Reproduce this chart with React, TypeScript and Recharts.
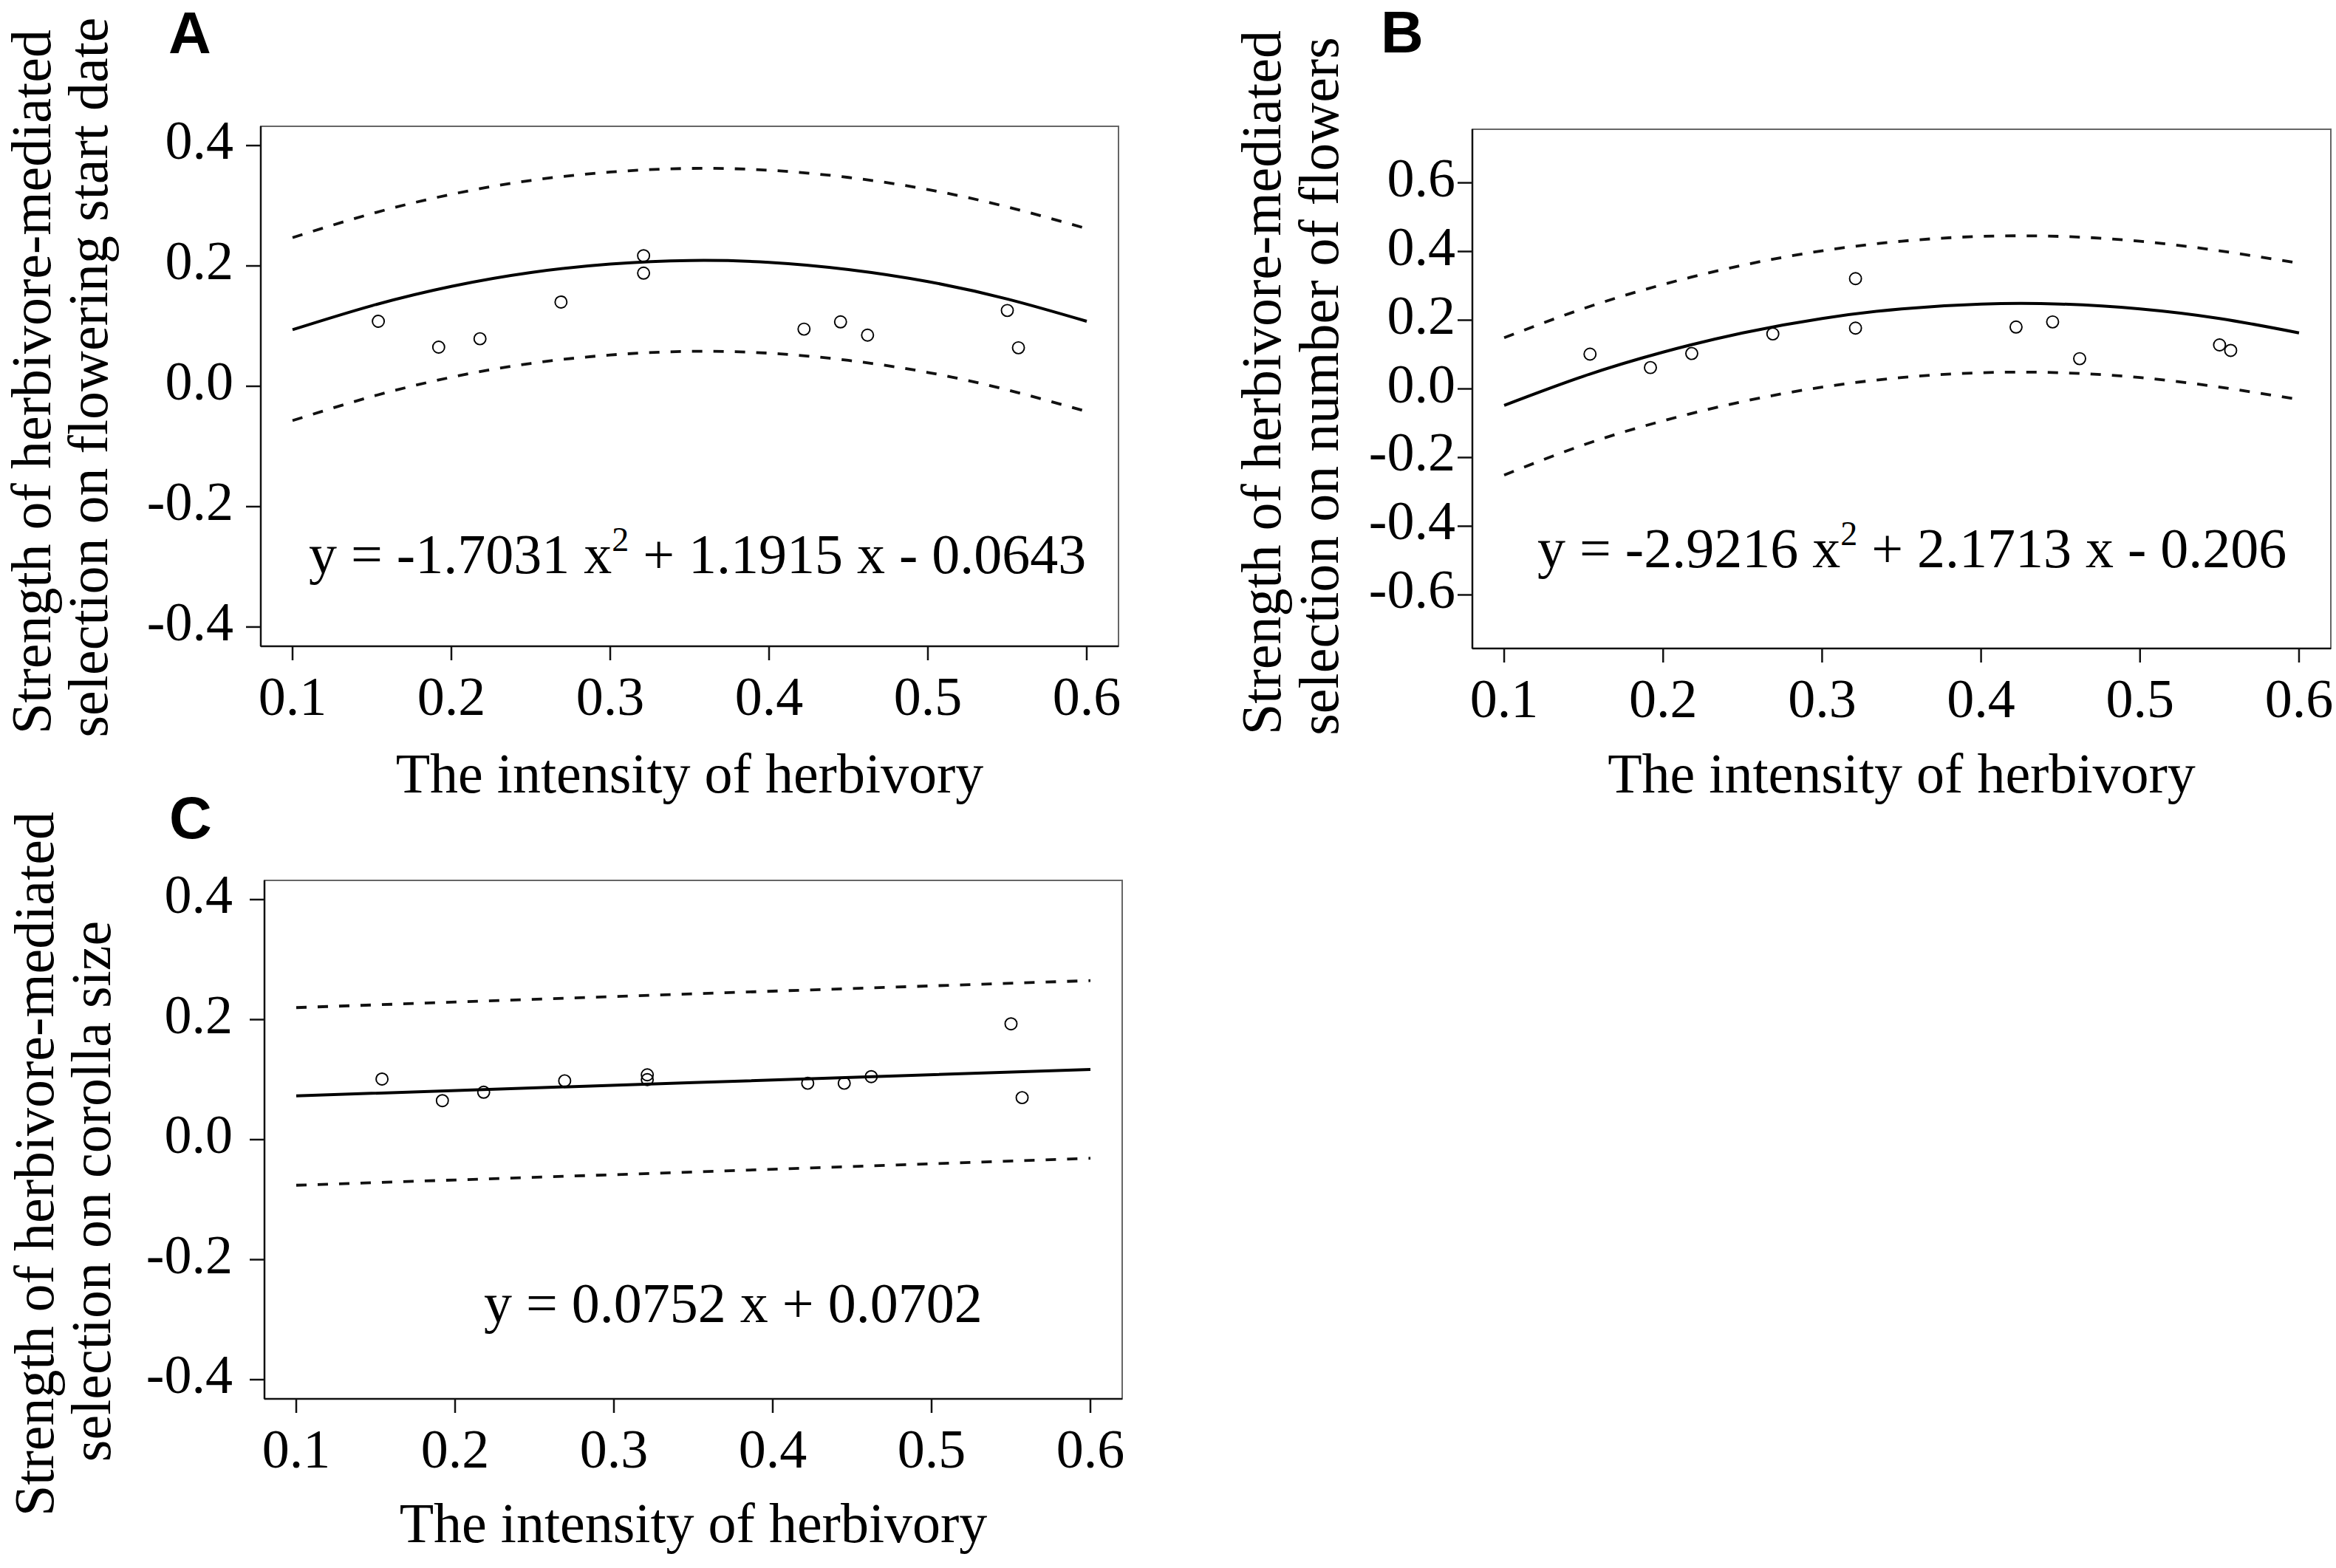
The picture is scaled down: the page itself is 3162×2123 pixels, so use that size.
import React from "react";
import { ComposedChart, Line, Scatter, XAxis, YAxis, ReferenceArea } from "recharts";

if (typeof document !== "undefined") {
  document.body.style.margin = "0";
}

// ---------- data ----------
const herbivory = [0.154, 0.192, 0.218, 0.269, 0.321, 0.321, 0.422, 0.445, 0.462, 0.55, 0.557];
const selFloweringStart = [0.108, 0.065, 0.079, 0.14, 0.217, 0.188, 0.095, 0.107, 0.085, 0.126, 0.064];
const selFlowerNumber = [0.101, 0.062, 0.103, 0.16, 0.321, 0.177, 0.18, 0.195, 0.088, 0.128, 0.112];
const selCorollaSize = [0.101, 0.065, 0.079, 0.098, 0.108, 0.1, 0.094, 0.094, 0.105, 0.193, 0.07];

const curveX = [0.1, 0.15, 0.2, 0.25, 0.3, 0.35, 0.4, 0.45, 0.5, 0.55, 0.6];
const fitA = [0.094, 0.134, 0.166, 0.189, 0.203, 0.209, 0.206, 0.194, 0.174, 0.145, 0.108];
const upperA = [0.247, 0.287, 0.319, 0.342, 0.356, 0.362, 0.359, 0.347, 0.327, 0.298, 0.262];
const lowerA = [-0.057, -0.017, 0.015, 0.038, 0.052, 0.058, 0.055, 0.043, 0.023, -0.006, -0.042];

const fitB = [-0.048, 0.037, 0.107, 0.163, 0.205, 0.233, 0.247, 0.247, 0.233, 0.205, 0.163];
const upperB = [0.149, 0.234, 0.304, 0.36, 0.402, 0.43, 0.444, 0.444, 0.43, 0.402, 0.366];
const lowerB = [-0.251, -0.163, -0.093, -0.037, 0.005, 0.033, 0.047, 0.047, 0.033, 0.005, -0.031];

const lineX = [0.1, 0.35, 0.6];
const fitC = [0.073, 0.095, 0.117];
const upperC = [0.22, 0.243, 0.265];
const lowerC = [-0.076, -0.054, -0.031];

const xTicks = [0.1, 0.2, 0.3, 0.4, 0.5, 0.6];
const yTicksSmall = [-0.4, -0.2, 0, 0.2, 0.4];
const yTicksLarge = [-0.6, -0.4, -0.2, 0, 0.2, 0.4, 0.6];
const xDomain: [number, number] = [0.08, 0.62];
const yDomainSmall: [number, number] = [-0.432, 0.432];
const yDomainLarge: [number, number] = [-0.756, 0.756];

const xTitle = "The intensity of herbivory";
const yTitleTop = "Strength of herbivore-mediated";

const toPts = (xs: number[], ys: number[]) => xs.map((x, i) => ({ x, y: ys[i] }));

// ---------- styling ----------
const SERIF = "'Liberation Serif', 'Times New Roman', Times, serif";
const SANS = "'Liberation Sans', Arial, Helvetica, sans-serif";
const FS = 74;

type Cfg = {
  left: number;
  top: number;
  width: number;
  height: number;
  box: { l: number; t: number; r: number; b: number };
  yDomain: [number, number];
  yTicks: number[];
  yTickMargin: number;
  points: { x: number; y: number }[];
  fit: { x: number; y: number }[];
  upper: { x: number; y: number }[];
  lower: { x: number; y: number }[];
  curve: "natural" | "linear";
  letter: { t: string; x: number; y: number };
  eq: { x: number; y: number; parts: string[] };
  xTitleY: number;
  yTitles: { x: number; cy: number; text: string }[];
};

const panels: Cfg[] = [
  {
    left: 0, top: 0, width: 1600, height: 1110,
    box: { l: 353, t: 171, r: 1514, b: 875 },
    yDomain: yDomainSmall, yTicks: yTicksSmall, yTickMargin: 17,
    points: toPts(herbivory, selFloweringStart),
    fit: toPts(curveX, fitA), upper: toPts(curveX, upperA), lower: toPts(curveX, lowerA),
    curve: "natural",
    letter: { t: "A", x: 228, y: 72 },
    eq: { x: 418, y: 776, parts: ["y = -1.7031 x", "2", " + 1.1915 x - 0.0643"] },
    xTitleY: 1073,
    yTitles: [
      { x: 68, cy: 517, text: yTitleTop },
      { x: 145, cy: 511, text: "selection on flowering start date" },
    ],
  },
  {
    left: 1600, top: 0, width: 1562, height: 1110,
    box: { l: 1993, t: 175, r: 3155, b: 878 },
    yDomain: yDomainLarge, yTicks: yTicksLarge, yTickMargin: 3,
    points: toPts(herbivory, selFlowerNumber),
    fit: toPts(curveX, fitB), upper: toPts(curveX, upperB), lower: toPts(curveX, lowerB),
    curve: "natural",
    letter: { t: "B", x: 1869, y: 71 },
    eq: { x: 2081, y: 768, parts: ["y = -2.9216 x", "2", " + 2.1713 x - 0.206"] },
    xTitleY: 1073,
    yTitles: [
      { x: 1733, cy: 518, text: yTitleTop },
      { x: 1811, cy: 523, text: "selection on number of flowers" },
    ],
  },
  {
    left: 0, top: 1030, width: 1600, height: 1093,
    box: { l: 358, t: 1192, r: 1519, b: 1894 },
    yDomain: yDomainSmall, yTicks: yTicksSmall, yTickMargin: 23,
    points: toPts(herbivory, selCorollaSize),
    fit: toPts(lineX, fitC), upper: toPts(lineX, upperC), lower: toPts(lineX, lowerC),
    curve: "linear",
    letter: { t: "C", x: 229, y: 1135 },
    eq: { x: 655, y: 1790, parts: ["y = 0.0752 x + 0.0702"] },
    xTitleY: 2088,
    yTitles: [
      { x: 72, cy: 1576, text: yTitleTop },
      { x: 149, cy: 1613, text: "selection on corolla size" },
    ],
  },
];

const fmt = (v: number) => (Math.abs(v) < 1e-9 ? 0 : v).toFixed(1);

function XTick(props: any) {
  const { x, y, payload } = props;
  return (
    <text x={x} y={y + 74} textAnchor="middle" fontSize={FS} fontFamily={SERIF} fill="#000">
      {fmt(payload.value)}
    </text>
  );
}

function YTick(props: any) {
  const { x, y, payload } = props;
  return (
    <text x={x} y={y + 18} textAnchor="end" fontSize={FS} fontFamily={SERIF} fill="#000">
      {fmt(payload.value)}
    </text>
  );
}

const OpenCircle = (p: any) => (
  <circle cx={p.cx} cy={p.cy} r={8} fill="none" stroke="#000" strokeWidth={1.9} />
);

function Panel({ cfg }: { cfg: Cfg }) {
  const { left, top, width, height, box } = cfg;
  const bl = box.l - left;
  const bt = box.t - top;
  const br = box.r - left;
  const bb = box.b - top;

  const xLabel = (p: any) => {
    const vb = p.viewBox || {};
    const cx = (vb.x ?? bl) + (vb.width ?? br - bl) / 2;
    return (
      <text x={cx} y={cfg.xTitleY - top} textAnchor="middle" fontSize={76} fontFamily={SERIF} fill="#000">
        {xTitle}
      </text>
    );
  };

  const yLabel = () => (
    <g>
      {cfg.yTitles.map((t, i) => (
        <text
          key={i}
          x={t.x - left}
          y={t.cy - top}
          transform={`rotate(-90 ${t.x - left} ${t.cy - top})`}
          textAnchor="middle"
          fontSize={76}
          fontFamily={SERIF}
          fill="#000"
        >
          {t.text}
        </text>
      ))}
    </g>
  );

  const dashed = { stroke: "#111", strokeWidth: 3.8, strokeDasharray: "14 15" };

  return (
    <div style={{ position: "absolute", left, top, width, height }}>
      <ComposedChart
        width={width}
        height={height}
        margin={{ top: bt, right: width - br, bottom: 0, left: 0 }}
      >
        <XAxis
          type="number"
          dataKey="x"
          domain={xDomain}
          ticks={xTicks}
          interval={0}
          allowDataOverflow
          height={height - bb}
          tickSize={19}
          tickMargin={0}
          axisLine={{ stroke: "#111", strokeWidth: 2.5 }}
          tickLine={{ stroke: "#111", strokeWidth: 2.5 }}
          tick={<XTick />}
          label={xLabel}
        />
        <YAxis
          type="number"
          dataKey="y"
          domain={cfg.yDomain}
          ticks={cfg.yTicks}
          interval={0}
          allowDataOverflow
          width={bl}
          tickSize={20}
          tickMargin={cfg.yTickMargin}
          axisLine={{ stroke: "#111", strokeWidth: 2.5 }}
          tickLine={{ stroke: "#111", strokeWidth: 2.5 }}
          tick={<YTick />}
          label={yLabel}
        />
        <ReferenceArea
          x1={xDomain[0]}
          x2={xDomain[1]}
          y1={cfg.yDomain[0]}
          y2={cfg.yDomain[1]}
          fill="none"
          fillOpacity={0}
          stroke="#666"
          strokeWidth={2}
          ifOverflow="visible"
        />
        <Line data={cfg.upper} dataKey="y" type={cfg.curve} dot={false} activeDot={false} isAnimationActive={false} {...dashed} />
        <Line data={cfg.lower} dataKey="y" type={cfg.curve} dot={false} activeDot={false} isAnimationActive={false} {...dashed} />
        <Line data={cfg.fit} dataKey="y" type={cfg.curve} dot={false} activeDot={false} isAnimationActive={false} stroke="#000" strokeWidth={4} />
        <Scatter data={cfg.points} dataKey="y" shape={OpenCircle} isAnimationActive={false} />
      </ComposedChart>
      <svg
        width={width}
        height={height}
        style={{ position: "absolute", left: 0, top: 0, pointerEvents: "none" }}
      >
        <text x={cfg.letter.x - left} y={cfg.letter.y - top} fontSize={80} fontWeight="bold" fontFamily={SANS} fill="#000">
          {cfg.letter.t}
        </text>
        <text x={cfg.eq.x - left} y={cfg.eq.y - top} fontSize={76} fontFamily={SERIF} fill="#000">
          <tspan>{cfg.eq.parts[0]}</tspan>
          {cfg.eq.parts.length > 1 && (
            <>
              <tspan fontSize={46} dy={-30}>{cfg.eq.parts[1]}</tspan>
              <tspan dy={30}>{cfg.eq.parts[2]}</tspan>
            </>
          )}
        </text>
      </svg>
    </div>
  );
}

export default function App() {
  return (
    <div style={{ position: "relative", width: 3162, height: 2123, background: "#fff" }}>
      {panels.map((cfg, i) => (
        <Panel key={i} cfg={cfg} />
      ))}
    </div>
  );
}
